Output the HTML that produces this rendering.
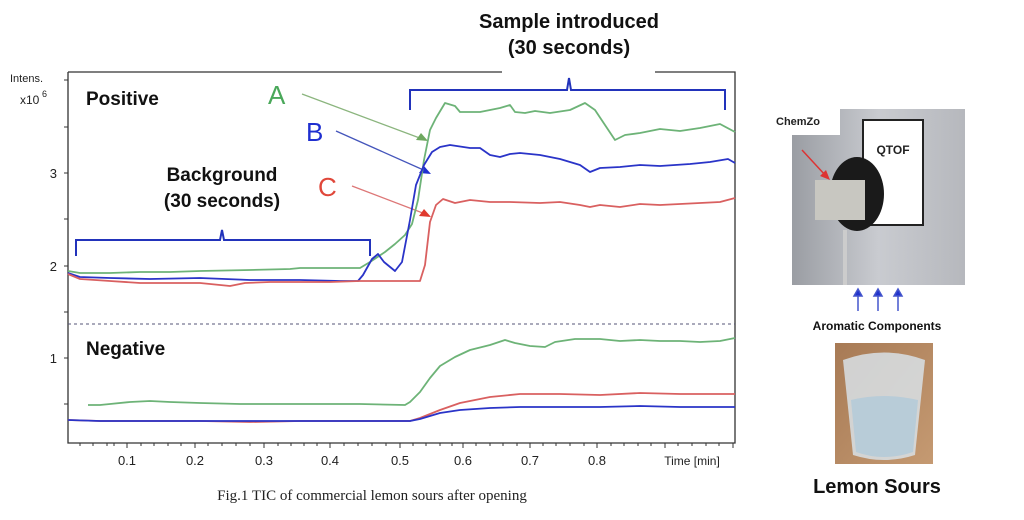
<!DOCTYPE html>
<html><head><meta charset="utf-8"><style>
body{margin:0;background:#fff;width:1024px;height:515px;overflow:hidden}
text{font-family:"Liberation Sans",sans-serif}
</style></head><body>
<svg width="1024" height="515" viewBox="0 0 1024 515" xmlns="http://www.w3.org/2000/svg">
<defs>
<linearGradient id="gr" x1="0" y1="0" x2="1" y2="0"><stop offset="0" stop-color="#9a9da3"/><stop offset="0.5" stop-color="#c9cbd0"/><stop offset="1" stop-color="#b6b8bd"/></linearGradient>
<linearGradient id="gl" x1="0" y1="0" x2="1" y2="1"><stop offset="0" stop-color="#a77a55"/><stop offset="1" stop-color="#c59a72"/></linearGradient>
</defs>
<!-- axes -->
<g stroke="#333" stroke-width="1.3" fill="none">
<path d="M68,72 V443 H735 V72 H655 M502,72 H68"/>
</g>
<g stroke="#333" stroke-width="1">
<path d="M64,80h4M64,127h4M64,173h4M64,219h4M64,266h4M64,312h4M64,358h4M64,404h4"/>
<path d="M127,443v5M195,443v5M264,443v5M330,443v5M400,443v5M463,443v5M530,443v5M597,443v5M665,443v5M733,443v5"/>
<path d="M80,443v3M93,443v3M107,443v3M114,443v3M141,443v3M154,443v3M168,443v3M181,443v3M208,443v3M222,443v3M236,443v3M250,443v3M278,443v3M291,443v3M304,443v3M317,443v3M344,443v3M358,443v3M372,443v3M386,443v3M413,443v3M426,443v3M440,443v3M452,443v3M476,443v3M490,443v3M503,443v3M517,443v3M543,443v3M556,443v3M570,443v3M584,443v3M611,443v3M624,443v3M638,443v3M651,443v3M678,443v3M692,443v3M706,443v3M719,443v3"/>
</g>
<g font-size="13" fill="#222" text-anchor="middle">
<text x="127" y="465">0.1</text><text x="195" y="465">0.2</text><text x="264" y="465">0.3</text><text x="330" y="465">0.4</text><text x="400" y="465">0.5</text><text x="463" y="465">0.6</text><text x="530" y="465">0.7</text><text x="597" y="465">0.8</text>
<text x="692" y="465" font-size="12">Time [min]</text>
</g>
<g font-size="13" fill="#222" text-anchor="end">
<text x="57" y="178">3</text><text x="57" y="271">2</text><text x="57" y="363">1</text>
</g>
<text x="10" y="82" font-size="11" fill="#222">Intens.</text>
<text x="20" y="104" font-size="12" fill="#222">x10</text><text x="42" y="97" font-size="9" fill="#222">6</text>
<line x1="68" y1="324" x2="735" y2="324" stroke="#557" stroke-width="1" stroke-dasharray="3,3"/>
<text x="86" y="105" font-size="19" font-weight="bold" fill="#111">Positive</text>
<text x="86" y="355" font-size="19" font-weight="bold" fill="#111">Negative</text>
<text x="222" y="181" font-size="19" font-weight="bold" fill="#111" text-anchor="middle">Background</text>
<text x="222" y="207" font-size="19" font-weight="bold" fill="#111" text-anchor="middle">(30 seconds)</text>
<text x="569" y="28" font-size="20" font-weight="bold" fill="#111" text-anchor="middle">Sample introduced</text>
<text x="569" y="54" font-size="20" font-weight="bold" fill="#111" text-anchor="middle">(30 seconds)</text>
<!-- brackets -->
<g stroke="#2233bb" stroke-width="2" fill="none">
<path d="M76,256 V240 H220 L222,230 L224,240 H370 V256"/>
<path d="M410,110 V90 H567 L569,78 L571,90 H725 V110"/>
</g>
<!-- labels -->
<text x="268" y="104" font-size="26" fill="#4aa85a">A</text>
<text x="306" y="141" font-size="26" fill="#1f2fd0">B</text>
<text x="318" y="196" font-size="26" fill="#e0473a">C</text>
<g stroke-width="1.3" fill="none">
<path d="M302,94 L425,140" stroke="#8bb57e"/>
<path d="M336,131 L428,172" stroke="#4455bb"/>
<path d="M352,186 L428,215" stroke="#d77"/>
</g>
<polygon points="428,141 416,140 421,133" fill="#6ea85f"/>
<polygon points="431,174 419,173 424,166" fill="#1f2fd0"/>
<polygon points="431,217 419,216 424,209" fill="#e03a2e"/>
<!-- positive series -->
<g fill="none" stroke-width="1.8" stroke-linejoin="round">
<polyline stroke="#6db377" points="68,271 80,273 110,273 140,272 170,272 200,271 250,270 290,269 300,268 330,268 360,268 370,262 385,252 395,244 405,235 412,224 418,200 424,160 430,130 436,118 445,103 455,106 460,112 480,112 500,108 510,105 515,112 525,113 535,111 550,113 570,110 585,103 595,110 605,125 615,140 625,135 640,133 660,129 680,131 700,128 720,124 735,132"/>
<polyline stroke="#2a34c8" points="68,273 80,277 110,278 150,279 200,278 250,280 300,280 340,281 358,281 363,275 372,259 378,254 384,262 395,271 402,262 410,220 416,185 424,165 432,152 440,147 450,145 470,148 480,148 490,155 500,157 510,154 520,153 540,155 560,159 580,165 590,172 600,168 620,167 640,165 660,166 690,164 710,162 728,159 735,163"/>
<polyline stroke="#d96060" points="68,274 80,279 110,281 140,283 170,283 200,283 230,286 245,283 270,282 300,282 330,282 360,281 380,281 395,281 405,281 420,281 425,265 430,222 436,205 443,199 455,203 470,200 490,202 510,202 540,203 560,202 580,205 590,207 600,205 620,207 640,204 660,205 680,204 700,203 720,202 735,198"/>
<!-- negative -->
<polyline stroke="#6db377" points="88,405 100,405 110,404 130,402 150,401 170,402 200,403 240,404 300,404 360,404 405,405 410,402 420,392 430,378 440,366 455,357 470,350 490,345 505,340 515,343 530,346 545,347 555,342 575,339 600,339 620,341 640,340 660,341 680,341 700,342 720,341 735,338"/>
<polyline stroke="#d96060" points="68,420 100,421 150,421 200,421 250,422 300,421 360,421 410,421 420,418 440,410 460,403 490,397 520,394 560,394 600,395 640,393 680,394 735,394"/>
<polyline stroke="#2a34c8" points="68,420 100,421 150,421 200,421 250,421 300,421 360,421 410,421 420,419 440,413 460,410 490,408 520,407 560,407 600,407 640,406 680,407 735,407"/>
</g>
<text x="372" y="500" font-size="15" fill="#222" text-anchor="middle" style="font-family:'Liberation Serif',serif">Fig.1 TIC of  commercial lemon sours after opening</text>
<!-- right photo -->
<rect x="792" y="109" width="173" height="176" fill="url(#gr)"/>
<rect x="792" y="109" width="48" height="26" fill="#fff"/>
<text x="776" y="125" font-size="11" font-weight="bold" fill="#222">ChemZo</text>
<rect x="863" y="120" width="60" height="105" fill="#fff" stroke="#222" stroke-width="2"/>
<text x="893" y="154" font-size="12" font-weight="bold" fill="#222" text-anchor="middle">QTOF</text>
<ellipse cx="857" cy="194" rx="27" ry="37" fill="#1a1a1a"/>
<rect x="815" y="180" width="50" height="40" fill="#c8c7c1"/>
<line x1="802" y1="150" x2="826" y2="176" stroke="#d33" stroke-width="1.5"/>
<polygon points="830,180 820,176 826,170" fill="#d33"/>
<line x1="845" y1="230" x2="845" y2="285" stroke="#ccc" stroke-width="4"/>
<g stroke="#4455cc" stroke-width="1.5" fill="#2233cc">
<line x1="858" y1="311" x2="858" y2="294"/><polygon points="854,296 862,296 858,289"/>
<line x1="878" y1="311" x2="878" y2="294"/><polygon points="874,296 882,296 878,289"/>
<line x1="898" y1="311" x2="898" y2="294"/><polygon points="894,296 902,296 898,289"/>
</g>
<text x="877" y="330" font-size="12" font-weight="bold" fill="#111" text-anchor="middle">Aromatic Components</text>
<rect x="835" y="343" width="98" height="121" fill="url(#gl)"/>
<path d="M843,360 Q884,345 925,360 L915,455 Q884,465 853,455 Z" fill="#d8e0e6" opacity="0.85"/>
<path d="M851,400 Q884,392 918,400 L913,452 Q884,462 856,452 Z" fill="#b8ccd8"/>
<text x="877" y="493" font-size="20" font-weight="bold" fill="#111" text-anchor="middle">Lemon Sours</text>
</svg>
</body></html>
